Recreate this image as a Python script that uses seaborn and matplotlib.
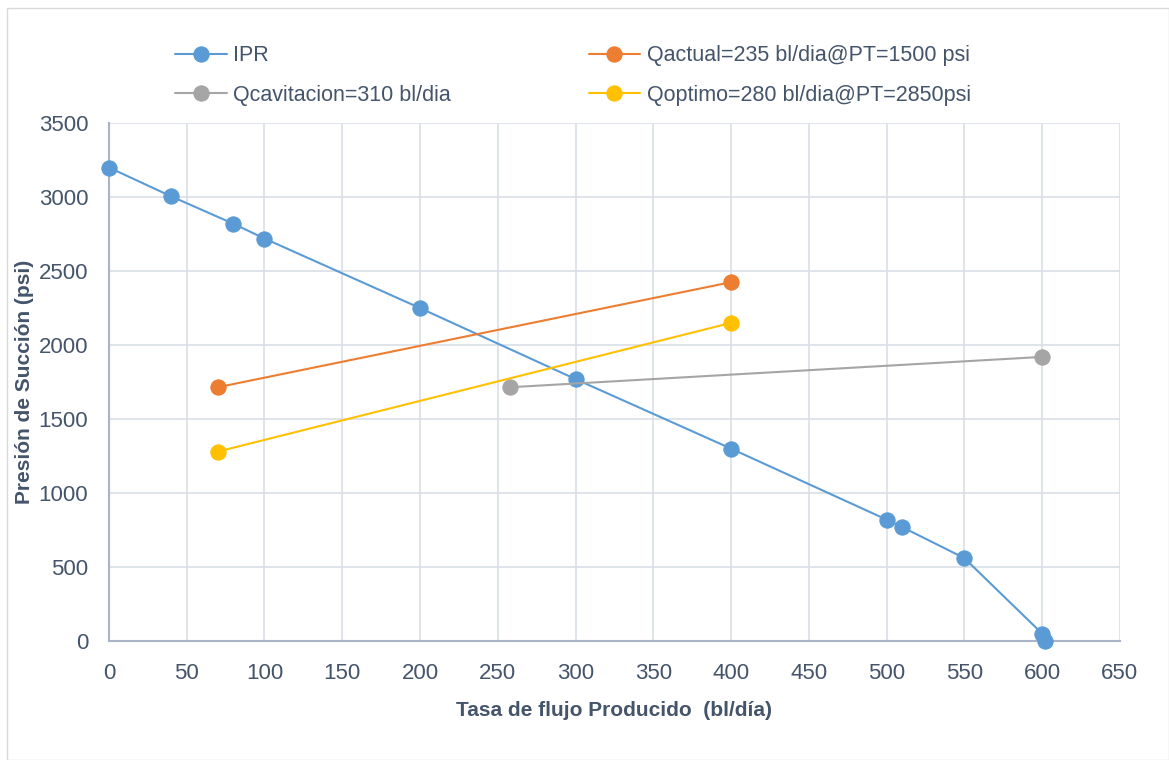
import pandas as pd
import matplotlib
import matplotlib.pyplot as plt
import seaborn as sns

matplotlib.use("Agg")

# datos
ipr_q = [0, 40, 80, 100, 200, 300, 400, 500, 510, 550, 600, 602]
ipr_p = [3200, 3005, 2820, 2720, 2250, 1770, 1300, 820, 770, 560, 50, 0]
actual_q = [70, 400]
actual_p = [1715, 2425]
cavit_q = [258, 600]
cavit_p = [1715, 1920]
optimo_q = [70, 400]
optimo_p = [1280, 2150]

labels = ["IPR", "Qactual=235 bl/dia@PT=1500 psi",
          "Qcavitacion=310 bl/dia", "Qoptimo=280 bl/dia@PT=2850psi"]
colors = ["#5B9BD5", "#ED7D31", "#A5A5A5", "#FFC000"]

sns.set_theme(style="whitegrid")
plt.rcParams['font.family'] = ['Liberation Sans Narrow', 'Liberation Sans', 'DejaVu Sans']

fig = plt.figure(figsize=(11.69, 7.6), dpi=100)
ax = fig.add_axes([0.0932, 0.1566, 0.958 - 0.0932, 0.838 - 0.1566])

series = [(ipr_q, ipr_p), (actual_q, actual_p), (cavit_q, cavit_p), (optimo_q, optimo_p)]
for (q, p), lab, col in zip(series, labels, colors):
    df = pd.DataFrame({"q": q, "p": p})
    sns.lineplot(data=df, x="q", y="p", ax=ax, color=col, label=lab, marker="o",
                 markersize=11, markeredgecolor=col, linewidth=1.5, sort=False,
                 estimator=None, legend=False, clip_on=False, zorder=3)

ax.set_xlim(0, 650)
ax.set_ylim(0, 3500)
ax.set_xticks(range(0, 651, 50))
ax.set_yticks(range(0, 3501, 500))
ax.grid(True, color="#D9DEE6", linewidth=1.2)
for s in ["top", "right"]:
    ax.spines[s].set_visible(False)
for s in ["left", "bottom"]:
    ax.spines[s].set_color("#A9B4C6")
    ax.spines[s].set_linewidth(1.5)
ax.tick_params(axis="both", labelsize=16, colors="#44546A", length=0)
ax.tick_params(axis="x", pad=16)
ax.tick_params(axis="y", pad=15)

ax.set_xlabel("Tasa de flujo Producido  (bl/día)", fontsize=15, fontweight="bold",
              color="#44546A", labelpad=12)
ax.set_ylabel("Presión de Succión (psi)", fontsize=15, fontweight="bold",
              color="#44546A", labelpad=3)

handles = ax.get_lines()
order = [0, 2, 1, 3]
leg = fig.legend([handles[i] for i in order], [labels[i] for i in order],
                 loc="upper left", bbox_to_anchor=(0.133, 0.966), ncol=2,
                 fontsize=15.5, frameon=False, columnspacing=6.4, handlelength=2.4,
                 handletextpad=0.3, labelspacing=0.85)
for t in leg.get_texts():
    t.set_color("#44546A")

fig.patches.append(matplotlib.patches.Rectangle((0.006, 0.0), 0.994, 0.99, transform=fig.transFigure,
                                                fill=False, edgecolor="#D9D9D9", linewidth=1))

fig.savefig("out.png", dpi=100)
